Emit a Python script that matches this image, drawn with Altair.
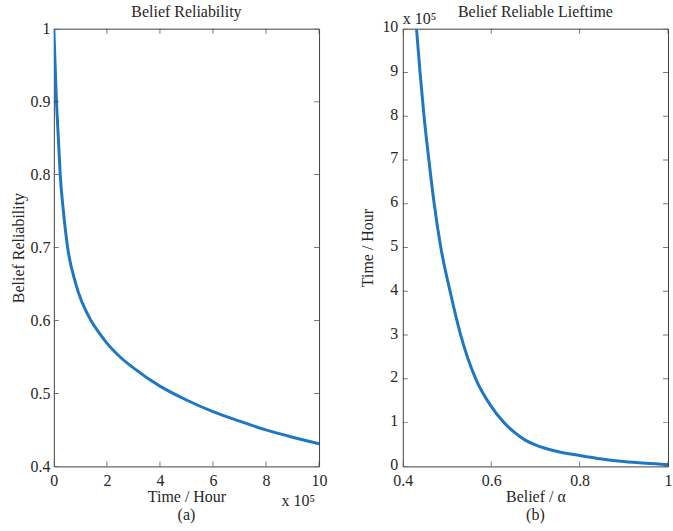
import altair as alt
import pandas as pd

# ---- data ----
time_1e5 = [0, 0.06, 0.10, 0.17, 0.24, 0.36, 0.52, 0.83, 1.40, 1.75, 2.0, 2.5,
            3.0, 4.0, 5.0, 6.0, 7.0, 8.0, 9.0, 10.0]
reliability = [1.0, 0.937, 0.90, 0.85, 0.80, 0.75, 0.70, 0.65, 0.60, 0.581, 0.569,
               0.550, 0.535, 0.510, 0.491, 0.475, 0.462, 0.450, 0.440, 0.431]

belief = [0.431, 0.439, 0.448, 0.459, 0.471, 0.486, 0.507, 0.531, 0.565, 0.598,
          0.629, 0.65, 0.677, 0.70, 0.72, 0.75, 0.80, 0.85, 0.90, 0.95, 1.0]
lifetime_1e5 = [10, 9, 8, 7, 6, 5, 4, 3, 2, 1.40, 1.0, 0.80, 0.60, 0.49, 0.42,
                0.34, 0.25, 0.17, 0.11, 0.07, 0.04]

a_xticks = [0, 2, 4, 6, 8, 10]
a_yticks = [0.4, 0.5, 0.6, 0.7, 0.8, 0.9, 1.0]
b_xticks = [0.4, 0.6, 0.8, 1.0]
b_yticks = [0, 1, 2, 3, 4, 5, 6, 7, 8, 9, 10]
exponent_label = ["x 10\u2075"]
titles = ["Belief Reliability", "Belief Reliable Lieftime"]
captions = ["(a)", "(b)"]

FONT = "Liberation Serif"
TXT = "#262626"
FRAME = "#404040"
BLUE = "#1f77c4"
W, H = 266, 439
LABEL_EXPR = "'' + datum.value"


def panel(df, xf, yf, xdom, ydom, xticks, yticks, xtitle, ytitle, title, caption,
          y_label_pad, y_title_pad, y_label_off, exp_x, exp_y, exp_align):
    xs = alt.Scale(domain=xdom, nice=False, zero=False)
    ys = alt.Scale(domain=ydom, nice=False, zero=False)
    xa = alt.Axis(values=xticks, title=xtitle, labelExpr=LABEL_EXPR,
                  labelPadding=6, titlePadding=0)
    ya = alt.Axis(values=yticks, title=ytitle, labelExpr=LABEL_EXPR,
                  labelPadding=y_label_pad, titlePadding=y_title_pad,
                  labelOffset=y_label_off)
    line = alt.Chart(df).mark_line(
        color=BLUE, strokeWidth=3, interpolate="monotone", clip=True
    ).encode(
        x=alt.X(f"{xf}:Q", scale=xs, axis=xa),
        y=alt.Y(f"{yf}:Q", scale=ys, axis=ya),
    )
    xt = pd.DataFrame({xf: xticks})
    yt = pd.DataFrame({yf: yticks})
    tk = dict(size=10, thickness=1, color=FRAME, clip=True)
    bottom = alt.Chart(xt).mark_tick(**tk).encode(
        x=alt.X(f"{xf}:Q", scale=xs, axis=xa), y=alt.value(H))
    top = alt.Chart(xt).mark_tick(**tk).encode(
        x=alt.X(f"{xf}:Q", scale=xs, axis=xa), y=alt.value(0))
    left = alt.Chart(yt).mark_tick(**tk).encode(
        y=alt.Y(f"{yf}:Q", scale=ys, axis=ya), x=alt.value(0))
    right = alt.Chart(yt).mark_tick(**tk).encode(
        y=alt.Y(f"{yf}:Q", scale=ys, axis=ya), x=alt.value(W))
    txt = dict(font=FONT, fontSize=16, color=TXT, baseline="alphabetic")
    expo = alt.Chart(pd.DataFrame({"t": exponent_label})).mark_text(
        align=exp_align, **txt
    ).encode(x=alt.value(exp_x), y=alt.value(exp_y), text="t:N")
    ttl = alt.Chart(pd.DataFrame({"t": [title]})).mark_text(
        align="center", **txt
    ).encode(x=alt.value(W / 2), y=alt.value(-12), text="t:N")
    cap = alt.Chart(pd.DataFrame({"t": [caption]})).mark_text(
        align="center", **txt
    ).encode(x=alt.value(W / 2), y=alt.value(H + 54), text="t:N")
    return alt.layer(line, bottom, top, left, right, expo, ttl, cap).properties(
        width=W, height=H)


df_a = pd.DataFrame({"t": time_1e5, "r": reliability})
df_b = pd.DataFrame({"b": belief, "l": lifetime_1e5})

pa = panel(df_a, "t", "r", [0, 10], [0.4, 1.0], a_xticks, a_yticks,
           "Time / Hour", "Belief Reliability", titles[0], captions[0],
           4, 3, 0, W - 4, H + 40, "right")
pb = panel(df_b, "b", "l", [0.4, 1.0], [0, 10], b_xticks, b_yticks,
           "Belief / \u03b1", "Time / Hour", titles[1], captions[1],
           5, 6, -2, 0, -5, "left")

chart = alt.hconcat(pa, pb, spacing=84, bounds="flush").properties(
    padding={"left": 10, "top": 2, "right": 0, "bottom": 0}
).configure_axis(
    labelFont=FONT, labelFontSize=16, labelColor=TXT,
    titleFont=FONT, titleFontSize=16, titleFontWeight="normal", titleColor=TXT,
    ticks=False, domain=False, grid=False, labelFlush=False,
).configure_view(stroke=FRAME, strokeWidth=1)

chart.save("out.html", embed_options={"renderer": "svg", "actions": False})
